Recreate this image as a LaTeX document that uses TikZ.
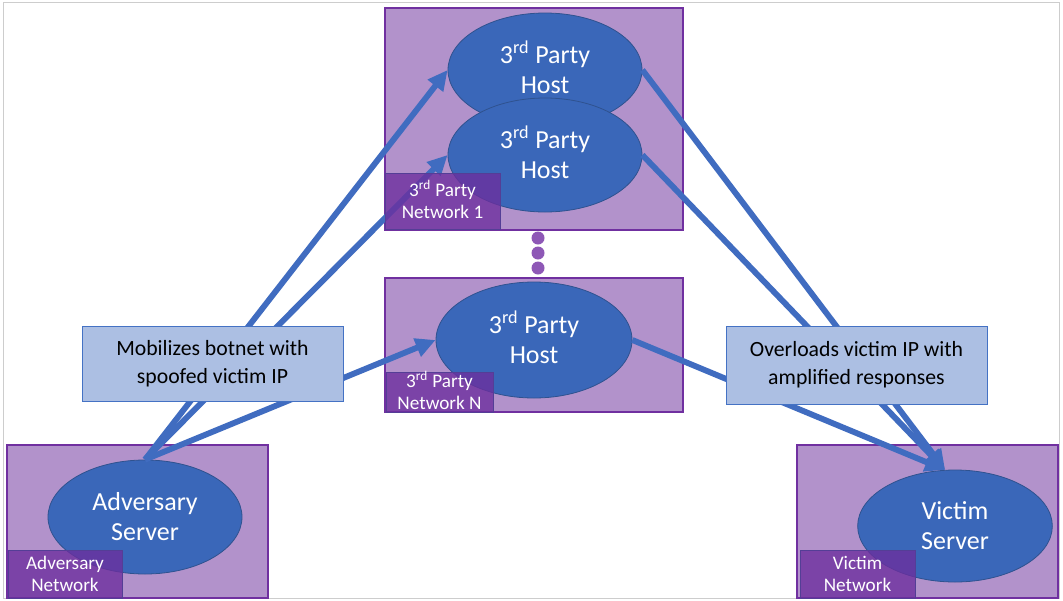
\documentclass[tikz,border=0pt]{standalone}
\usepackage{fontspec}
\setmainfont{Carlito}
\usetikzlibrary{arrows.meta,shapes.geometric}

\definecolor{netfill}{RGB}{178,146,203}
\definecolor{netdraw}{RGB}{112,48,160}
\definecolor{labfill}{RGB}{108,46,158}
\definecolor{labdraw}{RGB}{84,62,150}
\definecolor{hostfill}{RGB}{58,103,185}
\definecolor{hostdraw}{RGB}{47,82,143}
\definecolor{flow}{RGB}{64,108,192}
\definecolor{tboxfill}{RGB}{172,191,227}
\definecolor{tboxdraw}{RGB}{68,114,196}
\definecolor{dotfill}{RGB}{142,88,182}
\definecolor{framegray}{RGB}{205,205,205}

% superscript that does not change the line height
\newcommand{\ordsup}[1]{\smash{\textsuperscript{#1}}}

\tikzset{
  netbox/.style={rectangle, draw=netdraw, line width=1.5pt, fill=netfill, inner sep=0pt},
  host/.style={ellipse, fill=hostfill, draw=hostdraw, line width=0.6pt, text=white,
    align=center, inner sep=0pt, minimum width=145.5pt, minimum height=85.5pt,
    font=\fontsize{19.5}{22.5}\selectfont},
  labbox/.style={rectangle, fill=labfill, fill opacity=0.78, draw=labdraw, line width=0.6pt,
    inner sep=0pt},
  labtext/.style={text=white, align=center, inner sep=0pt,
    font=\fontsize{14.4}{16.5}\selectfont},
  dotc/.style={circle, fill=dotfill, inner sep=0pt, minimum size=9.75pt},
  flowarrow/.style={draw=flow, line width=4.4pt,
    -{Triangle[length=15pt,width=14pt]}, shorten >=0pt},
  tbox/.style={rectangle, fill=tboxfill, draw=tboxdraw, line width=0.75pt, align=center,
    inner sep=0pt, minimum width=195.75pt, font=\fontsize{16.3}{21}\selectfont}
}

\begin{document}
\begin{tikzpicture}[x=0.75pt,y=-0.75pt]
\useasboundingbox (0,0) rectangle (1063,600);
\fill[white] (0,0) rectangle (1063,600);
\draw[framegray, line width=0.75pt] (3,2) rectangle (1059,598);

% network regions
\node[netbox, minimum width=223.5pt, minimum height=166.5pt] (net1) at (534,119) {};
\node[netbox, minimum width=223.5pt, minimum height=100.5pt] (netN) at (534,345) {};
\node[netbox, minimum width=195.75pt, minimum height=114.75pt] (advnet) at (137.5,521.5) {};
\node[netbox, minimum width=195.75pt, minimum height=114.75pt] (vicnet) at (927.5,521.5) {};

% hosts and servers
\node[host] (host1) at (545,70) {3\ordsup{rd} Party\\Host};
\node[host] (host2) at (545,155) {3\ordsup{rd} Party\\Host};
\node[host, minimum width=147pt, minimum height=87pt] (hostN) at (534,340) {3\ordsup{rd} Party\\Host};
\node[host] (adv) at (145,517) {Adversary\\Server};
\node[host, minimum width=146pt, minimum height=84pt] (victim) at (955,526) {Victim\\Server};

% ellipsis between the third-party networks
\node[dotc] (dot1) at (538,238) {};
\node[dotc] (dot2) at (538,253) {};
\node[dotc] (dot3) at (538,268) {};

% traffic flows
\draw[flowarrow] (adv.north) -- (host1.west);
\draw[flowarrow] (adv.north) -- (host2.west);
\draw[flowarrow] (adv.north) -- (hostN.west);
\draw[flowarrow] (host1.east) -- (victim.100);
\draw[flowarrow] (host2.east) -- (victim.100);
\draw[flowarrow] (hostN.east) -- (victim.100);

% network tags
\node[labbox, minimum width=86.25pt, minimum height=42pt] (tag1) at (442.5,201) {};
\node[labtext] at (tag1.center) {3\ordsup{rd} Party\\Network 1};
\node[labbox, minimum width=80.25pt, minimum height=30pt] (tagN) at (439.5,392) {};
\node[labtext] at (439.5,392) {3\ordsup{rd} Party\\Network N};
\node[labbox, minimum width=85.5pt, minimum height=36pt] (tagA) at (65,574) {};
\node[labtext] at (tagA.center) {Adversary\\Network};
\node[labbox, minimum width=86.25pt, minimum height=36pt] (tagV) at (857.5,574) {};
\node[labtext] at (tagV.center) {Victim\\Network};

% annotations
\node[tbox, minimum height=56.25pt] (mob) at (212.5,363.5) {Mobilizes botnet with\\spoofed victim IP};
\node[tbox, minimum height=58.5pt] (over) at (856.5,365) {Overloads victim IP with\\amplified responses};
\end{tikzpicture}
\end{document}
